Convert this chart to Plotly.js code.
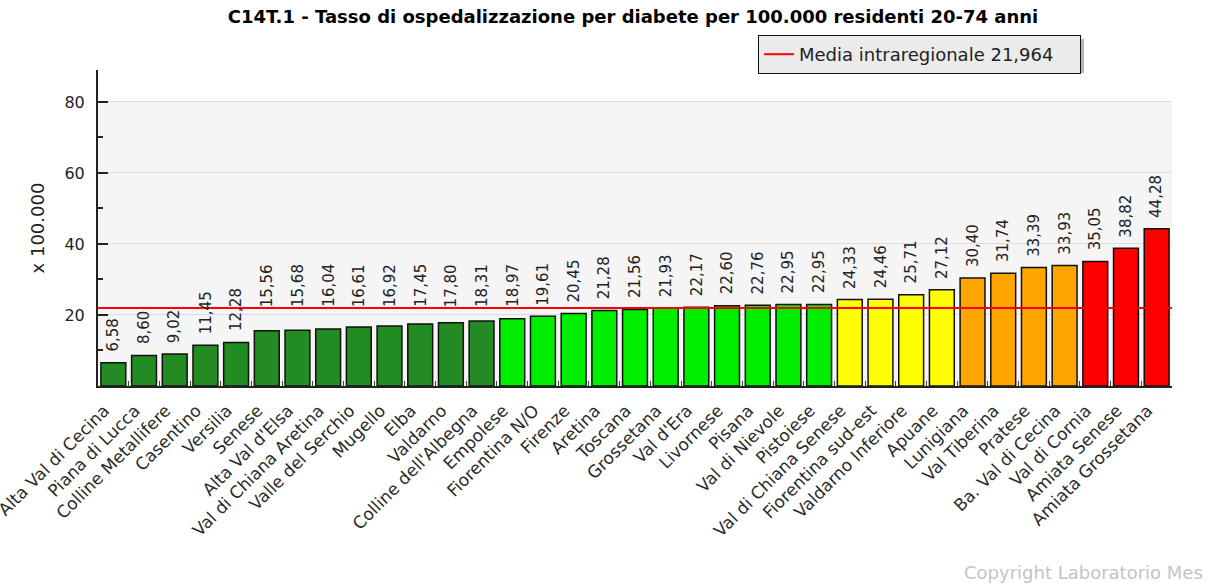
<!DOCTYPE html>
<html>
<head>
<meta charset="utf-8">
<script src="https://cdn.plot.ly/plotly-3.0.1.min.js"></script>
<style>html,body{margin:0;padding:0;background:#fff;}#chart{width:1211px;height:584px;}</style>
</head>
<body>
<div id="chart"></div>
<script>
const categories = ["Alta Val di Cecina","Piana di Lucca","Colline Metallifere","Casentino","Versilia","Senese","Alta Val d'Elsa","Val di Chiana Aretina","Valle del Serchio","Mugello","Elba","Valdarno","Colline dell'Albegna","Empolese","Fiorentina N/O","Firenze","Aretina","Toscana","Grossetana","Val d'Era","Livornese","Pisana","Val di Nievole","Pistoiese","Val di Chiana Senese","Fiorentina sud-est","Valdarno Inferiore","Apuane","Lunigiana","Val Tiberina","Pratese","Ba. Val di Cecina","Val di Cornia","Amiata Senese","Amiata Grossetana"];
const values = [6.58,8.60,9.02,11.45,12.28,15.56,15.68,16.04,16.61,16.92,17.45,17.80,18.31,18.97,19.61,20.45,21.28,21.56,21.93,22.17,22.60,22.76,22.95,22.95,24.33,24.46,25.71,27.12,30.40,31.74,33.39,33.93,35.05,38.82,44.28];
const classes = ["dg","dg","dg","dg","dg","dg","dg","dg","dg","dg","dg","dg","dg","g","g","g","g","g","g","g","g","g","g","g","y","y","y","y","o","o","o","o","r","r","r"];
const classColors = {dg:"#228B22", g:"#00EE00", y:"#FFFF00", o:"#FFA500", r:"#FF0000"};
const meanValue = 21.964;
const meanLabel = "Media intraregionale 21,964";
const titleText = "C14T.1 - Tasso di ospedalizzazione per diabete per 100.000 residenti 20-74 anni";
const yTitle = "x 100.000";
const copyrightText = "Copyright Laboratorio Mes";

const FONT = "DejaVu Sans, Verdana, sans-serif";
const Y_MAX = 89;
const PLOT_H = 584 - 70 - 198;
const pxPerUnit = PLOT_H / Y_MAX;
const labelGapPx = 10;

function fmt(v) { return v.toFixed(2).replace(".", ","); }

// value labels: sit above the bar; labels of bars just below the average line are lifted above it
const valueLabels = values.map((v, i) => {
  let y = v + labelGapPx / pxPerUnit;
  if (v < meanValue && (meanValue - v) * pxPerUnit < 28 && y < meanValue) y = meanValue;
  return {
    text: fmt(v), x: categories[i], y: y, xref: "x", yref: "y",
    textangle: -90, xanchor: "center", yanchor: "bottom", showarrow: false,
    font: {family: FONT, size: 15, color: "#222"}, borderpad: 0
  };
});

const bars = {
  type: "bar",
  x: categories,
  y: values,
  marker: {color: classes.map(c => classColors[c]), line: {color: "#111", width: 1.5}},
  showlegend: false,
  hoverinfo: "x+y"
};

const meanLine = {
  type: "scatter",
  mode: "lines",
  x: [0, 1],
  y: [meanValue, meanValue],
  xaxis: "x2",
  line: {color: "#FF0000", width: 2},
  name: meanLabel,
  showlegend: true
};

const layout = {
  width: 1211, height: 584,
  margin: {l: 98, r: 39, t: 70, b: 198, autoexpand: false},
  paper_bgcolor: "#ffffff",
  plot_bgcolor: "#ffffff",
  separators: ",.",
  font: {family: FONT, size: 14, color: "#222"},
  bargap: 0.19,
  title: {text: "<b>" + titleText + "</b>", font: {family: FONT, size: 18, color: "#000"},
          x: 633/1211, xanchor: "center", xref: "container", y: 1 - 17/584, yanchor: "middle", yref: "container"},
  xaxis: {
    type: "category",
    range: [-0.5, categories.length - 0.5],
    showline: true, linecolor: "#222", linewidth: 2,
    ticks: "inside", tickson: "boundaries", ticklen: 5, tickcolor: "#444", tickwidth: 1,
    tickangle: -45,
    ticklabelshift: -9, ticklabelstandoff: 6,
    tickfont: {family: FONT, size: 17, color: "#2a2a2a"},
    showgrid: false, zeroline: false, automargin: false, fixedrange: true
  },
  xaxis2: {overlaying: "x", range: [0, 1], visible: false, fixedrange: true},
  yaxis: {
    range: [0, Y_MAX],
    tickvals: [20, 40, 60, 80],
    ticktext: ["20", "40", "60", "80"],
    showline: true, linecolor: "#222", linewidth: 2,
    ticks: "inside", ticklen: 10, tickcolor: "#222", tickwidth: 2,
    minor: {tickvals: [10, 30, 50, 70], ticks: "inside", ticklen: 5, tickcolor: "#222", tickwidth: 2, showgrid: false},
    showgrid: true, gridcolor: "#dcdcdc", gridwidth: 1,
    zeroline: false,
    ticklabelstandoff: 8,
    tickfont: {family: FONT, size: 16, color: "#222"},
    title: {text: yTitle, font: {family: FONT, size: 18, color: "#222"}, standoff: 15},
    automargin: false, fixedrange: true
  },
  shapes: [
    {type: "rect", xref: "paper", yref: "y", x0: 0, x1: 1, y0: 0, y1: 80, fillcolor: "#f5f5f5", line: {width: 0}, layer: "below"},
    {type: "rect", xref: "paper", yref: "paper", x0: (762-98)/1074, x1: (1084-98)/1074, y0: (386-73)/316, y1: (386-39)/316, fillcolor: "#b4b4b4", line: {width: 0}, layer: "above"}
  ],
  legend: {
    orientation: "h",
    x: (758-98)/1074, xanchor: "left", y: (386-35)/316, yanchor: "top",
    bgcolor: "#ebebeb", bordercolor: "#111", borderwidth: 1,
    entrywidth: 276, entrywidthmode: "pixels",
    font: {family: FONT, size: 18, color: "#222"}
  },
  annotations: valueLabels.concat([
    {text: copyrightText, xref: "paper", yref: "paper", x: (1205-98)/1074, xanchor: "right",
     y: (386-572)/316, yanchor: "middle", showarrow: false, font: {family: FONT, size: 18, color: "#c4c4c4"}}
  ])
};

Plotly.newPlot("chart", [bars, meanLine], layout, {displayModeBar: false, staticPlot: true});
</script>
</body>
</html>
